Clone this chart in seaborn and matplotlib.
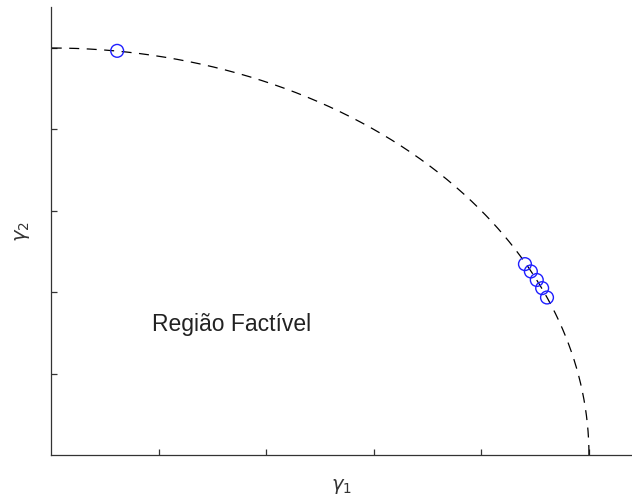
import numpy as np
import pandas as pd
import matplotlib
matplotlib.use("Agg")
import matplotlib.pyplot as plt
import seaborn as sns

# Pareto points (gamma1, gamma2)
gamma1 = [0.123, 0.881, 0.892, 0.903, 0.913, 0.922]
gamma2 = [0.993, 0.469, 0.451, 0.430, 0.410, 0.387]

# Boundary of the feasible region: unit quarter circle
radius = 1.0
theta = np.linspace(0, np.pi / 2, 400)
boundary = pd.DataFrame({"g1": radius * np.cos(theta), "g2": radius * np.sin(theta)})
points = pd.DataFrame({"g1": gamma1, "g2": gamma2})

sns.set_style("white")
plt.rcParams["font.family"] = ["Liberation Sans", "DejaVu Sans"]
plt.rcParams["mathtext.fontset"] = "dejavusans"

fig = plt.figure(figsize=(6.32, 4.98), dpi=100)
ax = fig.add_axes([51 / 632, 43 / 498, 581 / 632, 447.7 / 498])

sns.lineplot(data=boundary, x="g1", y="g2", ax=ax, color="black", lw=0.9,
             linestyle=(0, (8, 6)), sort=False, estimator=None)
sns.scatterplot(data=points, x="g1", y="g2", ax=ax, marker="o", s=85,
                facecolors="none", edgecolor="#1f1fff", linewidth=1.0, zorder=3)

ax.set_xlim(0, 1.08)
ax.set_ylim(0, 1.1)
ax.set_xticks([0.2, 0.4, 0.6, 0.8, 1.0])
ax.set_yticks([0.2, 0.4, 0.6, 0.8, 1.0])
ax.set_xticklabels([])
ax.set_yticklabels([])
ax.tick_params(direction="in", length=4, width=0.9, color="#333333",
               bottom=True, left=True)
for side in ["top", "right"]:
    ax.spines[side].set_visible(False)
for side in ["left", "bottom"]:
    ax.spines[side].set_color("#333333")
    ax.spines[side].set_linewidth(0.9)

ax.set_xlabel(r"$\gamma_1$", fontsize=14, color="#333333", labelpad=12)
ax.set_ylabel(r"$\gamma_2$", fontsize=14, color="#333333", labelpad=10)

ax.text(0.336, 0.32, "Região Factível", fontsize=16.5, ha="center", va="center",
        color="#222222")

fig.savefig("out.png", dpi=100)
